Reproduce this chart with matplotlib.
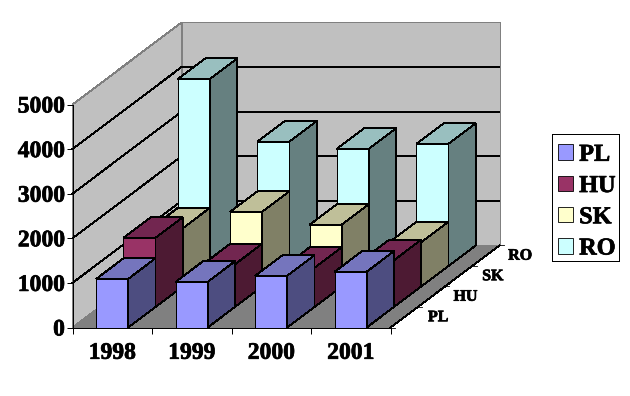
import matplotlib
matplotlib.use('Agg')
import matplotlib.pyplot as plt
import matplotlib.patheffects as pe
from matplotlib.patches import Polygon, Patch, Rectangle

years = ['1998', '1999', '2000', '2001']
series = ['PL', 'HU', 'SK', 'RO']
pl = [1090, 1025, 1160, 1250]
hu = [1550, 957, 880, 1047]
sk = [1305, 1675, 1385, 991]
ro = [4195, 2790, 2628, 2740]
yticks = [0, 1000, 2000, 3000, 4000, 5000]

front_colors = ['#9999FF', '#993366', '#FFFFCC', '#CCFFFF']
top_colors = ['#7575BD', '#722650', '#BFBF99', '#99BFBF']
side_colors = ['#4D4D80', '#4D1A33', '#808066', '#668080']

# one step in depth moves this far along the category and value axes
DX = 0.343
DY = 460
BAR_START = 0.298
BAR_W = 0.4025
LW = 0.6


def proj(cat, depth, val):
    return (cat + depth * DX, val + depth * DY)


def face(ax, pts, color, edge='black', z=1):
    ax.add_patch(Polygon([proj(*p) for p in pts], closed=True, facecolor=color, edgecolor=edge,
                         linewidth=LW, clip_on=False, zorder=z, antialiased=False))


W, H = 630, 396
plt.rcParams['font.family'] = ['Liberation Serif', 'DejaVu Serif']
plt.rcParams['font.weight'] = 'bold'
fig = plt.figure(figsize=(W / 100, H / 100), dpi=100, facecolor='white')
ax = fig.add_axes([72.5 / W, 1 - 327.5 / H, 318 / W, 223 / H])
ax.set_xlim(0, 4)
ax.set_ylim(0, 5000)
ax.patch.set_visible(False)
for s in ['top', 'right']:
    ax.spines[s].set_visible(False)
for s in ['left', 'bottom']:
    ax.spines[s].set_linewidth(0.72)

# walls and floor
face(ax, [(0, 0, 0), (0, 4, 0), (0, 4, 5000), (0, 0, 5000)], '#C0C0C0', '#808080', 0.1)
face(ax, [(0, 4, 0), (4, 4, 0), (4, 4, 5000), (0, 4, 5000)], '#C0C0C0', '#808080', 0.1)
face(ax, [(0, 0, 0), (4, 0, 0), (4, 4, 0), (0, 4, 0)], '#808080', '#808080', 0.2)

for v in yticks[1:-1]:
    xs, ys = zip(proj(0, 0, v), proj(0, 4, v), proj(4, 4, v))
    ax.plot(xs, ys, color='black', lw=LW, clip_on=False, zorder=0.3, antialiased=False)

# depth axis on the floor
xs, ys = zip(proj(4, 0, 0), proj(4, 4, 0))
ax.plot(xs, ys, color='black', lw=LW, clip_on=False, zorder=0.4, antialiased=False)
for d in range(5):
    xs, ys = zip(proj(4, d, 0), proj(4.055, d, 0))
    ax.plot(xs, ys, color='black', lw=LW, clip_on=False, zorder=0.4)
labels = []
for d, name in enumerate(series):
    x, y = proj(4.43, d + 0.5, 0)
    labels.append(ax.text(x, y, name, fontsize=11.5, ha='center', va='center', clip_on=False))

# bars, back row first
values = [pl, hu, sk, ro]
z = 1
for d in [3, 2, 1, 0]:
    for c in range(len(years)):
        v = values[d][c]
        x0 = c + BAR_START
        x1 = x0 + BAR_W
        face(ax, [(x0, d, 0), (x1, d, 0), (x1, d, v), (x0, d, v)], front_colors[d], z=z)
        face(ax, [(x0, d, v), (x1, d, v), (x1, d + 1, v), (x0, d + 1, v)], top_colors[d], z=z)
        face(ax, [(x1, d, 0), (x1, d + 1, 0), (x1, d + 1, v), (x1, d, v)], side_colors[d], z=z)
        z += 1

ax.set_yticks(yticks)
ax.tick_params(axis='y', length=4.5, width=0.72, pad=1, labelsize=17)
ax.set_xticks(range(5))
ax.set_xticklabels([])
ax.set_xticks([i + 0.5 for i in range(4)], labels=years, minor=True)
ax.tick_params(axis='x', which='major', length=4, width=0.72)
ax.tick_params(axis='x', which='minor', length=0, pad=11, labelsize=17)
for sp in ax.spines.values():
    sp.set_zorder(100)

# legend box drawn apart so its padding can differ per side
fig.add_artist(Rectangle((551.7 / W, 1 - 261.3 / H), 67.6 / W, 127 / H, transform=fig.transFigure,
                         facecolor='white', edgecolor='black', linewidth=0.72, antialiased=False))
handles = [Patch(facecolor=c, edgecolor='black', linewidth=LW, label=n)
           for c, n in zip(front_colors, series)]
leg = fig.legend(handles=handles, loc='upper left', bbox_to_anchor=(558 / W, 1 - 144.5 / H),
                 frameon=False, handlelength=0.6, handleheight=0.6, handletextpad=0.27,
                 labelspacing=0.41, borderpad=0, borderaxespad=0,
                 prop={'size': 17.5, 'weight': 'bold'})
leg.set_zorder(10)

# reference text is heavier than the plain bold face
for t in labels + ax.get_yticklabels() + ax.get_xticklabels(minor=True) + leg.get_texts():
    t.set_path_effects([pe.withStroke(linewidth=0.5, foreground='black')])

fig.savefig('out.png', dpi=100)
